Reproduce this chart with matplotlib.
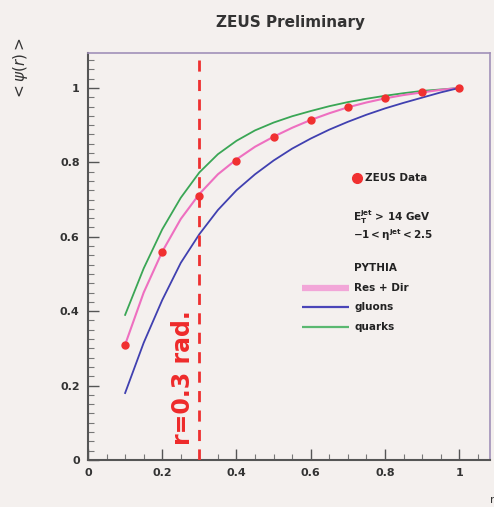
import matplotlib
matplotlib.use("Agg")
import matplotlib.pyplot as plt
from matplotlib.ticker import MultipleLocator

# ZEUS data: integrated jet shape
r_data = [0.1, 0.2, 0.3, 0.4, 0.5, 0.6, 0.7, 0.8, 0.9, 1.0]
psi_data = [0.31, 0.56, 0.71, 0.805, 0.868, 0.914, 0.949, 0.972, 0.988, 1.0]

# PYTHIA predictions
r_mc = [0.1, 0.15, 0.2, 0.25, 0.3, 0.35, 0.4, 0.45, 0.5, 0.55,
        0.6, 0.65, 0.7, 0.75, 0.8, 0.85, 0.9, 0.95, 1.0]
psi_resdir = [0.31, 0.45, 0.56, 0.648, 0.715, 0.768, 0.808, 0.842, 0.869, 0.893,
              0.914, 0.932, 0.948, 0.961, 0.972, 0.981, 0.988, 0.995, 1.0]
psi_gluons = [0.18, 0.315, 0.43, 0.53, 0.607, 0.672, 0.725, 0.768, 0.805, 0.837,
              0.864, 0.888, 0.909, 0.928, 0.945, 0.96, 0.974, 0.988, 1.0]
psi_quarks = [0.39, 0.515, 0.62, 0.705, 0.773, 0.822, 0.858, 0.886, 0.907, 0.924,
              0.938, 0.951, 0.962, 0.971, 0.979, 0.986, 0.992, 0.996, 1.0]

x_ticks = [0, 0.2, 0.4, 0.6, 0.8, 1]
x_ticklabels = ["0", "0.2", "0.4", "0.6", "0.8", "1"]
y_ticks = [0, 0.2, 0.4, 0.6, 0.8, 1]
y_ticklabels = ["0", "0.2", "0.4", "0.6", "0.8", "1"]

bg = "#f4f0ee"
fig = plt.figure(figsize=(4.94, 5.07), dpi=100, facecolor=bg)
ax = fig.add_axes([88 / 494, 1 - 460 / 507, (490 - 88) / 494, (460 - 53) / 507])
ax.set_facecolor(bg)
ax.set_xlim(0, 1.083)
ax.set_ylim(0, 1.094)

ax.plot(r_mc, psi_quarks, color="#3aa655", lw=1.3)
ax.plot(r_mc, psi_resdir, color="#ee6fc0", lw=1.5)
ax.plot(r_mc, psi_gluons, color="#4040b0", lw=1.3)
ax.plot(r_data, psi_data, "o", color="#f03030", ms=5, zorder=5)

ax.axvline(0.3, ymin=0.0, ymax=0.985, color="#ee3030", lw=2, ls=(0, (4, 3)), zorder=3)
ax.text(0.255, 0.04, "r=0.3 rad.", rotation=90, color="#ee2a2a",
        fontsize=17, fontweight="bold", ha="center", va="bottom")

# legend block
fs = 7.5
tc = "#222222"
ax.plot([0.725], [0.758], "o", color="#f03030", ms=7)
ax.text(0.745, 0.758, "ZEUS Data", fontsize=fs, fontweight="bold", va="center", color=tc)
ax.text(0.715, 0.653, r"$\mathbf{E_T^{jet}}$ > 14 GeV", fontsize=fs, fontweight="bold",
        va="center", color=tc)
ax.text(0.715, 0.605, r"$\mathbf{-1 < \eta^{jet} < 2.5}$", fontsize=fs, va="center", color=tc)
ax.text(0.717, 0.516, "PYTHIA", fontsize=fs, fontweight="bold", va="center", color=tc)
legend_items = [("Res + Dir", "#f2a6d8", 0.462, 4.5),
                ("gluons", "#4a45b8", 0.411, 1.6),
                ("quarks", "#5ab870", 0.358, 1.6)]
for label, col, yy, lw in legend_items:
    ax.plot([0.577, 0.703], [yy, yy], color=col, lw=lw, solid_capstyle="butt")
    ax.text(0.717, yy, label, fontsize=fs, fontweight="bold", va="center", color=tc)

ax.set_xticks(x_ticks)
ax.set_xticklabels(x_ticklabels)
ax.set_yticks(y_ticks)
ax.set_yticklabels(y_ticklabels)
ax.xaxis.set_minor_locator(MultipleLocator(0.05))
ax.yaxis.set_minor_locator(MultipleLocator(0.025))
ax.tick_params(which="major", direction="in", length=8, width=1, colors="#555555",
               labelsize=8, labelcolor="#333333", top=False, right=False, pad=6)
ax.tick_params(which="minor", direction="in", length=4, width=0.8, colors="#777777",
               top=False, right=False)
for lab in ax.get_xticklabels() + ax.get_yticklabels():
    lab.set_fontweight("bold")
for side in ["left", "bottom"]:
    ax.spines[side].set_color("#555555")
    ax.spines[side].set_linewidth(1.5)
for side in ["top", "right"]:
    ax.spines[side].set_color("#a090b8")
    ax.spines[side].set_linewidth(1.2)

fig.text(290 / 494, 1 - 22 / 507, "ZEUS Preliminary", fontsize=11, fontweight="bold",
         ha="center", va="center", color="#333333")
fig.text(20 / 494, 1 - 68 / 507, r"$<\psi(r)>$", fontsize=11, rotation=90,
         ha="center", va="center", color="#333333")
fig.text(492 / 494, 1 - 500 / 507, "r", fontsize=8, ha="center", va="center", color="#333333")

fig.savefig("out.png", dpi=100, facecolor=bg)
